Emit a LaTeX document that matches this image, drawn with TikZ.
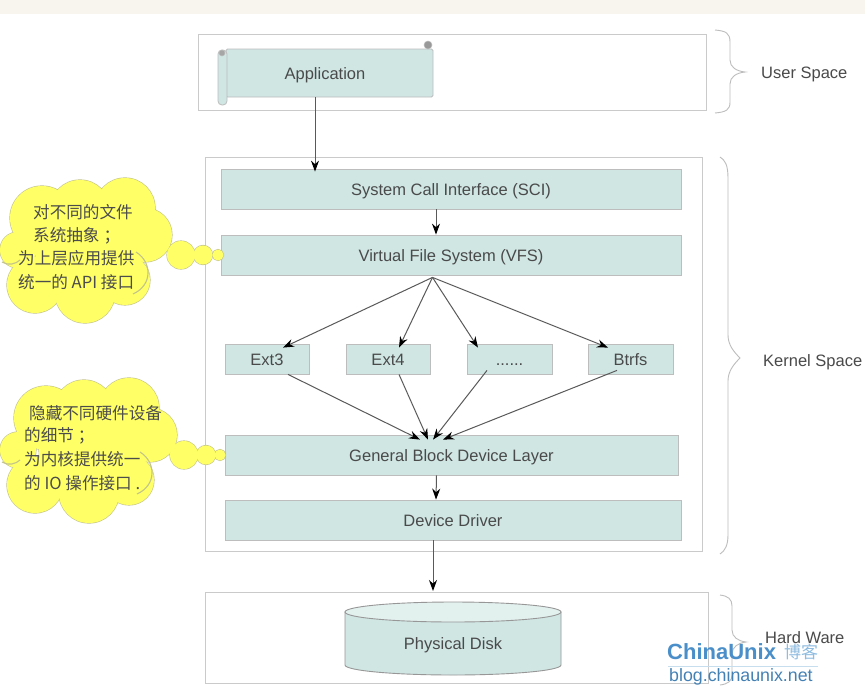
\documentclass[tikz,border=0pt]{standalone}
\usepackage{fontspec}
\setmainfont{Liberation Sans}
\newfontfamily\cjk{Noto Sans CJK SC}
\usetikzlibrary{arrows.meta,shapes.geometric}
\definecolor{boxfill}{HTML}{CFE6E3}
\definecolor{diskTop}{HTML}{E2F0EE}
\definecolor{edgegray}{HTML}{BDBDBD}
\definecolor{txt}{HTML}{4A4A4A}
\definecolor{cloudy}{HTML}{FFFF66}
\definecolor{cloudedge}{HTML}{C4C48A}
\definecolor{banner}{HTML}{F8F5EE}
\definecolor{wmblue}{HTML}{4A8FC9}
\definecolor{wmlight}{HTML}{8FBCE0}
\tikzset{
  x=1pt,y=-1pt,
  lab/.style={text=txt,font=\fontsize{16.5}{18}\selectfont,inner sep=0pt,text height=12pt,text depth=0pt},
  box/.style={draw=edgegray,fill=boxfill,line width=0.8pt,inner sep=0pt,text=txt,font=\fontsize{16.5}{18}\selectfont,text height=12pt,text depth=0pt},
  frame/.style={draw=edgegray!80,line width=1pt,inner sep=0pt},
  arr/.style={draw=black!65,line width=1pt,-{Stealth[length=11pt,width=8pt,color=black]}},
  brace/.style={draw=edgegray,line width=0.9pt},
  ctext/.style={anchor=west,inner sep=0pt,text=black!70,font=\cjk\fontsize{16.6}{18}\selectfont},
}
\newcommand{\cloudlobes}[1]{%
  \foreach \cx/\cy/\cr in {#1}{\draw[cloudedge,line width=1.2pt] (\cx,\cy) circle[radius=\cr pt];}%
  \foreach \cx/\cy/\cr in {#1}{\fill[cloudy] (\cx,\cy) circle[radius=\cr pt];}%
}
\begin{document}
\begin{tikzpicture}
\useasboundingbox (0,0) rectangle (865,686);
\fill[white] (0,0) rectangle (865,686);
\fill[banner] (0,0) rectangle (865,14);

% frames
\node[frame,minimum width=508pt,minimum height=76pt] (userframe) at (452,72) {};
\node[frame,minimum width=497pt,minimum height=394pt] (kernelframe) at (453.5,354) {};
\node[frame,minimum width=503pt,minimum height=91pt] (hwframe) at (456.5,637.5) {};

% scroll
\node[box,minimum width=207pt,minimum height=48pt,rounded corners=1.5pt] (app) at (329.5,73) {};
\draw[edgegray,fill=boxfill,line width=0.8pt,rounded corners=4pt] (218,50) rectangle (227,105);
\draw[edgegray,fill=black!35,line width=0.5pt] (222,53) circle[radius=3pt];
\draw[edgegray,fill=black!40,line width=0.5pt] (428,45) circle[radius=4pt];
\node[lab] (applabel) at (325,73) {Application};

% kernel boxes
\node[box,minimum width=460pt,minimum height=40pt] (sci) at (451,189) {System Call Interface (SCI)};
\node[box,minimum width=460pt,minimum height=40pt] (vfs) at (451,255) {Virtual File System (VFS)};
\node[box,minimum width=84pt,minimum height=30pt] (ext3) at (267,359) {Ext3};
\node[box,minimum width=84pt,minimum height=30pt] (ext4) at (388,359) {Ext4};
\node[box,minimum width=85pt,minimum height=30pt] (dots) at (509.5,359) {......};
\node[box,minimum width=85pt,minimum height=30pt] (btrfs) at (630.5,359) {Btrfs};
\node[box,minimum width=453pt,minimum height=40pt] (gbdl) at (451.5,455) {General Block Device Layer};
\node[box,minimum width=456pt,minimum height=40pt] (driver) at (453,520) {Device Driver};

% disk
\path[draw=edgegray!80!black,fill=boxfill,line width=0.9pt] (345,612) -- (345,665) arc[start angle=180,end angle=360,x radius=108pt,y radius=10pt] -- (561,612) -- cycle;
\node[draw=edgegray!80!black,fill=diskTop,line width=0.9pt,ellipse,minimum width=216pt,minimum height=20pt,inner sep=0pt] (disktop) at (453,612) {};
\node[lab] (disk) at (453,643) {Physical Disk};
\coordinate (hwin) at (433,591);

% connectors
\draw[arr] ([xshift=-14.5pt]app.south) -- ([xshift=-136pt,yshift=-3pt]sci.north);
\draw[arr] ([xshift=-15pt]sci.south) -- ([xshift=-15pt]vfs.north);
\draw[arr] ([xshift=-18.5pt,yshift=-2pt]vfs.south) -- ([xshift=16pt,yshift=-4pt]ext3.north);
\draw[arr] ([xshift=-18.5pt,yshift=-2pt]vfs.south) -- ([xshift=11pt,yshift=-4pt]ext4.north);
\draw[arr] ([xshift=-18.5pt,yshift=-2pt]vfs.south) -- ([xshift=-31.5pt,yshift=-4pt]dots.north);
\draw[arr] ([xshift=-18.5pt,yshift=-2pt]vfs.south) -- ([xshift=-22.5pt,yshift=-4pt]btrfs.north);
\draw[arr] ([xshift=21pt]ext3.south) -- ([xshift=-31.5pt,yshift=-5pt]gbdl.north);
\draw[arr] ([xshift=11pt]ext4.south) -- ([xshift=-23.5pt,yshift=-5pt]gbdl.north);
\draw[arr] ([xshift=-22.5pt,yshift=4pt]dots.south) -- ([xshift=-18.5pt,yshift=-5pt]gbdl.north);
\draw[arr] ([xshift=-13.5pt,yshift=4pt]btrfs.south) -- ([xshift=-8.5pt,yshift=-5pt]gbdl.north);
\draw[arr] ([xshift=-15pt]gbdl.south) -- ([xshift=-17pt]driver.north);
\draw[arr] ([xshift=-20pt]driver.south) -- (hwin);

% braces
\draw[brace] (715,30) .. controls (726,31) and (730,33) .. (730,42) -- (730,60) .. controls (730,67) and (736,71) .. (745,72) .. controls (736,73) and (730,77) .. (730,84) -- (730,102) .. controls (730,110) and (726,112) .. (715,113);
\draw[brace] (720,157) .. controls (725,160) and (728,165) .. (728,178) -- (728,335) .. controls (728,345) and (734,352) .. (740,358) .. controls (734,364) and (728,371) .. (728,381) -- (728,535) .. controls (728,545) and (725,551) .. (720,554);
\draw[brace] (720,595) .. controls (728,596) and (732,599) .. (732,606) -- (732,630) .. controls (732,637) and (738,641) .. (746,642) .. controls (738,643) and (732,647) .. (732,654) -- (732,675) .. controls (732,681) and (728,684) .. (720,685);
\node[lab,anchor=west] (userlab) at (761,72) {User Space};
\node[lab,anchor=west] (kernellab) at (763,360) {Kernel Space};
\node[lab,anchor=west] (hwlab) at (765,637) {Hard Ware};

% cloud one
\cloudlobes{42/218/32,80/210/30,125/208/30,145/235/27,125/280/25,85/293/30,35/285/28,18/250/18,85/250/50,181/255/14,203/255/9.5,218/255/5.5}
\draw[cloudedge,line width=1.1pt] (136,252) .. controls (152,262) and (153,285) .. (133,294);
\draw[cloudedge,line width=1.1pt] (2,262) .. controls (8,266) and (16,264) .. (20,260);
\node[ctext] (c1a) at (33,212) {对不同的文件};
\node[ctext] (c1b) at (33,236) {系统抽象\hspace{4pt}；};
\node[ctext] (c1c) at (18,258) {为上层应用提供};
\node[ctext] (c1d) at (18,282) {统一的 API 接口};

% cloud two
\cloudlobes{46/418/32,84/410/30,129/408/30,150/435/27,129/480/25,89/493/30,35/485/28,18/450/18,89/450/50,184/455/14,206/455/9.5,220/455/5.5}
\draw[cloudedge,line width=1.1pt] (140,452) .. controls (156,462) and (157,485) .. (137,494);
\draw[cloudedge,line width=1.1pt] (2,462) .. controls (8,466) and (16,464) .. (20,460);
\node[ctext] (c2a) at (29,413) {隐藏不同硬件设备};
\node[ctext] (c2b) at (24,436) {的细节\hspace{4pt}；};
\node[ctext] (c2c) at (24,459) {为内核提供统一};
\node[ctext] (c2d) at (24,483) {的 IO 操作接口 .};

% watermark
\node[anchor=west,inner sep=0pt,text=wmblue,font=\bfseries\fontsize{22}{24}\selectfont] (wm1) at (667,652) {ChinaUnix};
\node[anchor=west,inner sep=0pt,text=wmlight,font=\cjk\fontsize{17}{19}\selectfont] (wm2) at (784,652) {博客};
\draw[wmlight!50,line width=0.6pt] (668,666) -- (818,666);
\node[anchor=west,inner sep=0pt,text=wmblue!90!black,font=\fontsize{17.8}{20}\selectfont] (wm3) at (669,677) {blog.chinaunix.net};
\end{tikzpicture}
\end{document}
